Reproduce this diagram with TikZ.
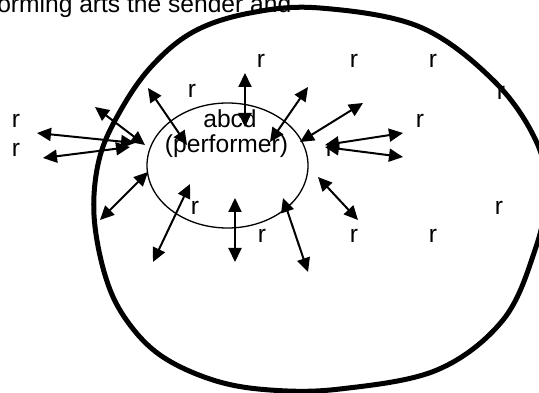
\documentclass[tikz,border=0pt]{standalone}
\usepackage{fontspec}
\setmainfont{Liberation Sans}
\usetikzlibrary{arrows.meta,shapes.geometric}
\begin{document}
\begin{tikzpicture}[x=1pt,y=-1pt,
  lbl/.style={font=\fontsize{24.6}{25}\selectfont, inner sep=0pt, anchor=base},
  dbl/.style={line width=2pt, {Triangle[length=14pt,width=13pt]}-{Triangle[length=14pt,width=13pt]}},
  bigring/.style={line width=5pt},
  smallring/.style={draw, ellipse, line width=1.3pt, inner sep=0pt, minimum width=161pt, minimum height=125pt}
]
\useasboundingbox (0,0) rectangle (539,393);
% title text (cut by the page edge)
\node[lbl, anchor=base west] (title) at (-9.75,13) {forming arts the sender and};
% r labels
\node[lbl] (rl1) at (16,128) {r};
\node[lbl] (rl2) at (16,157) {r};
\node[lbl] (rt1) at (261,68) {r};
\node[lbl] (rt2) at (354,68) {r};
\node[lbl] (rt3) at (433,68) {r};
\node[lbl] (rr1) at (501,100) {r};
\node[lbl] (ri1) at (192,98) {r};
\node[lbl] (ri2) at (420,128) {r};
\node[lbl] (ri3) at (330,157) {r};
\node[lbl] (rb1) at (195,215) {r};
\node[lbl] (rb2) at (262,243) {r};
\node[lbl] (rb3) at (354,243) {r};
\node[lbl] (rb4) at (433,243) {r};
\node[lbl] (rb5) at (499,215) {r};
% performer
\node[smallring] (perf) at (227.5,165.5) {};
\node[lbl] (abcd) at (230,128) {abcd};
\node[lbl] (perfname) at (226.5,153) {(performer)};
% audience boundary
\draw[bigring] plot[smooth cycle, tension=0.6] coordinates {
  (320,8) (420,27) (495,82) (537,143) (546,195) (535,250) (503,320)
  (437,370) (340,389) (270,390) (213,380) (160,355) (125,318) (105,275)
  (94,215) (99,160) (118,115) (150,68) (193,32) (250,13)};
% arrow end points
\coordinate (a1s) at (245,73);  \coordinate (a1e) at (245,127);
\coordinate (a2s) at (148,88);  \coordinate (a2e) at (187,145);
\coordinate (a3s) at (95,107);  \coordinate (a3e) at (145,145);
\coordinate (a4s) at (37,133);  \coordinate (a4e) at (135,143);
\coordinate (a5s) at (43,158);  \coordinate (a5e) at (130,147);
\coordinate (a6s) at (270,142); \coordinate (a6e) at (308,87);
\coordinate (a7s) at (300,142); \coordinate (a7e) at (363,103);
\coordinate (a8s) at (325,145); \coordinate (a8e) at (403,133);
\coordinate (a9s) at (325,147); \coordinate (a9e) at (403,157);
\coordinate (a10s) at (318,177); \coordinate (a10e) at (358,220);
\coordinate (a11s) at (148,172); \coordinate (a11e) at (100,220);
\coordinate (a12s) at (190,184); \coordinate (a12e) at (153,262);
\coordinate (a13s) at (235,198); \coordinate (a13e) at (235,262);
\coordinate (a14s) at (283,198); \coordinate (a14e) at (308,272);
\foreach \i in {1,...,14} {\draw[dbl] (a\i s) -- (a\i e);}
\end{tikzpicture}
\end{document}
